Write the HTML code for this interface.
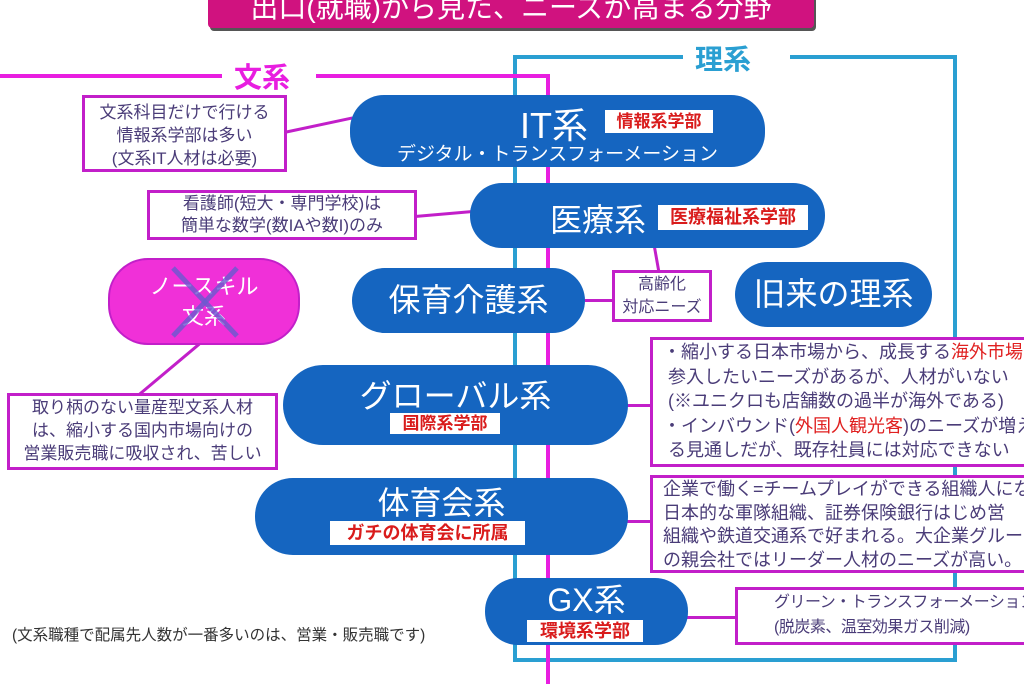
<!DOCTYPE html>
<html><head><meta charset="utf-8"><style>
*{margin:0;padding:0;box-sizing:border-box}
body{width:1024px;height:683px;background:#fff;position:relative;overflow:hidden;font-family:"Liberation Sans","Noto Sans CJK JP",sans-serif}
.a{position:absolute}
.node{position:absolute;background:#1565c0;border-radius:34px;color:#fff;text-align:center}
.box{position:absolute;background:#fff;border:3px solid #c21fc9;color:#4a3c78;text-align:center;line-height:1.2}
.lab{position:absolute;background:#fff;color:#d91c1c;font-weight:bold;text-align:center;line-height:1}
.ln{position:absolute;background:#c21fc9}
.bl{position:absolute;background:#2a9fd2}
</style></head><body>
<div class="a" style="left:208px;top:-12px;width:606px;height:40px;background:#d0127f;border-radius:4px;box-shadow:2px 3px 0 #555;color:#fff;font-size:28px;text-align:center;line-height:40px">出口(就職)から見た、ニーズが高まる分野</div>

<!-- blue frame -->
<div class="bl" style="left:513px;top:55px;width:170px;height:4px"></div>
<div class="bl" style="left:790px;top:55px;width:167px;height:4px"></div>
<div class="bl" style="left:513px;top:55px;width:4px;height:607px"></div>
<div class="bl" style="left:953px;top:55px;width:4px;height:607px"></div>
<div class="bl" style="left:513px;top:658px;width:444px;height:4px"></div>
<div class="a" style="left:695px;top:38px;font-size:28px;color:#2a9fd2;font-weight:bold">理系</div>
<!-- magenta frame -->
<div class="ln" style="left:0;top:74px;width:222px;height:4px;background:#e81ee0"></div>
<div class="ln" style="left:316px;top:74px;width:234px;height:4px;background:#e81ee0"></div>
<div class="ln" style="left:546px;top:74px;width:4px;height:610px;background:#e81ee0"></div>
<div class="a" style="left:234px;top:56px;font-size:28px;color:#e81ee0;font-weight:bold">文系</div>

<!-- connectors -->
<div class="ln" style="left:284px;top:131px;width:70px;height:3px;transform:rotate(-12deg);transform-origin:left"></div>
<div class="ln" style="left:415px;top:215px;width:58px;height:3px;transform:rotate(-5deg);transform-origin:left"></div>
<div class="ln" style="left:655px;top:245px;width:3px;height:27px;transform:rotate(-10deg)"></div>
<div class="ln" style="left:585px;top:299px;width:30px;height:3px"></div>
<div class="ln" style="width:80px;height:3px;transform:rotate(-40deg);transform-origin:left;left:138px;top:394px"></div>
<div class="ln" style="left:626px;top:404px;width:26px;height:3px"></div>
<div class="ln" style="left:626px;top:520px;width:26px;height:3px"></div>
<div class="ln" style="left:686px;top:616px;width:52px;height:3px"></div>

<!-- nodes -->
<div class="node" style="left:350px;top:95px;width:415px;height:72px">
 <div style="font-size:36px;position:absolute;left:170px;top:2px">IT系</div>
 <div style="font-size:19px;position:absolute;left:0;width:100%;top:44px">デジタル・トランスフォーメーション</div>
</div>
<div class="lab" style="left:605px;top:110px;width:108px;height:23px;font-size:17px;line-height:23px">情報系学部</div>

<div class="node" style="left:470px;top:183px;width:355px;height:65px;border-radius:32px">
 <div style="font-size:32px;position:absolute;left:80px;top:12px">医療系</div>
</div>
<div class="lab" style="left:658px;top:205px;width:150px;height:25px;font-size:18px;line-height:25px">医療福祉系学部</div>

<div class="node" style="left:352px;top:268px;width:233px;height:65px;font-size:32px;line-height:65px">保育介護系</div>
<div class="node" style="left:735px;top:262px;width:197px;height:65px;font-size:32px;line-height:65px">旧来の理系</div>

<div class="node" style="left:283px;top:365px;width:345px;height:80px;border-radius:40px">
 <div style="font-size:32px;position:absolute;width:100%;top:6px">グローバル系</div>
</div>
<div class="lab" style="left:390px;top:413px;width:110px;height:21px;font-size:17px;line-height:21px">国際系学部</div>

<div class="node" style="left:255px;top:478px;width:373px;height:77px;border-radius:38px">
 <div style="font-size:32px;position:absolute;width:100%;top:0px">体育会系</div>
</div>
<div class="lab" style="left:330px;top:521px;width:195px;height:24px;font-size:18px;line-height:24px">ガチの体育会に所属</div>

<div class="node" style="left:485px;top:578px;width:203px;height:67px;border-radius:33px">
 <div style="font-size:32px;position:absolute;width:100%;top:-3px">GX系</div>
</div>
<div class="lab" style="left:527px;top:620px;width:116px;height:22px;font-size:18px;line-height:22px">環境系学部</div>

<div class="a" style="left:108px;top:258px;width:192px;height:87px;background:#f030d8;border:2px solid #c21fc9;border-radius:40px;color:#fff;font-size:22px;text-align:center;line-height:30px;padding-top:12px">ノースキル<br>文系
<svg class="a" style="left:55px;top:4px" width="80" height="76"><line x1="8" y1="4" x2="72" y2="72" stroke="#6a5ad0" stroke-width="5" opacity=".8"/><line x1="72" y1="4" x2="8" y2="72" stroke="#6a5ad0" stroke-width="5" opacity=".8"/></svg></div>

<!-- boxes -->
<div class="box" style="left:82px;top:95px;width:205px;height:77px;font-size:17px;padding-top:3px;line-height:23px">文系科目だけで行ける<br>情報系学部は多い<br>(文系IT人材は必要)</div>
<div class="box" style="left:147px;top:190px;width:270px;height:50px;font-size:17px;line-height:22px">看護師(短大・専門学校)は<br>簡単な数学(数IAや数I)のみ</div>
<div class="box" style="left:612px;top:270px;width:100px;height:52px;font-size:16px;line-height:23px">高齢化<br>対応ニーズ</div>
<div class="box" style="left:7px;top:393px;width:271px;height:77px;font-size:17px;line-height:23px">取り柄のない量産型文系人材<br>は、縮小する国内市場向けの<br>営業販売職に吸収され、苦しい</div>
<div class="box" style="left:650px;top:337px;width:390px;height:130px;font-size:18px;line-height:24.5px;text-align:left;padding-left:10px;white-space:nowrap">・縮小する日本市場から、成長する<span style="color:#e02020">海外市場</span>に<br>&nbsp;参入したいニーズがあるが、人材がいない<br>&nbsp;(※ユニクロも店舗数の過半が海外である)<br>・インバウンド(<span style="color:#e02020">外国人観光客</span>)のニーズが増え<br>&nbsp;る見通しだが、既存社員には対応できない</div>
<div class="box" style="left:650px;top:475px;width:390px;height:98px;font-size:18px;line-height:23.5px;text-align:left;padding-left:10px;white-space:nowrap">企業で働く=チームプレイができる組織人にな<br>日本的な軍隊組織、証券保険銀行はじめ営<br>組織や鉄道交通系で好まれる。大企業グルー<br>の親会社ではリーダー人材のニーズが高い。</div>
<div class="box" style="left:735px;top:587px;width:300px;height:58px;font-size:16px;line-height:25px;text-align:left;padding-left:36px;white-space:nowrap;letter-spacing:-0.5px">グリーン・トランスフォーメーション<br>(脱炭素、温室効果ガス削減)</div>

<div class="a" style="left:12px;top:623px;font-size:15.5px;color:#333">(文系職種で配属先人数が一番多いのは、営業・販売職です)</div>
</body></html>
